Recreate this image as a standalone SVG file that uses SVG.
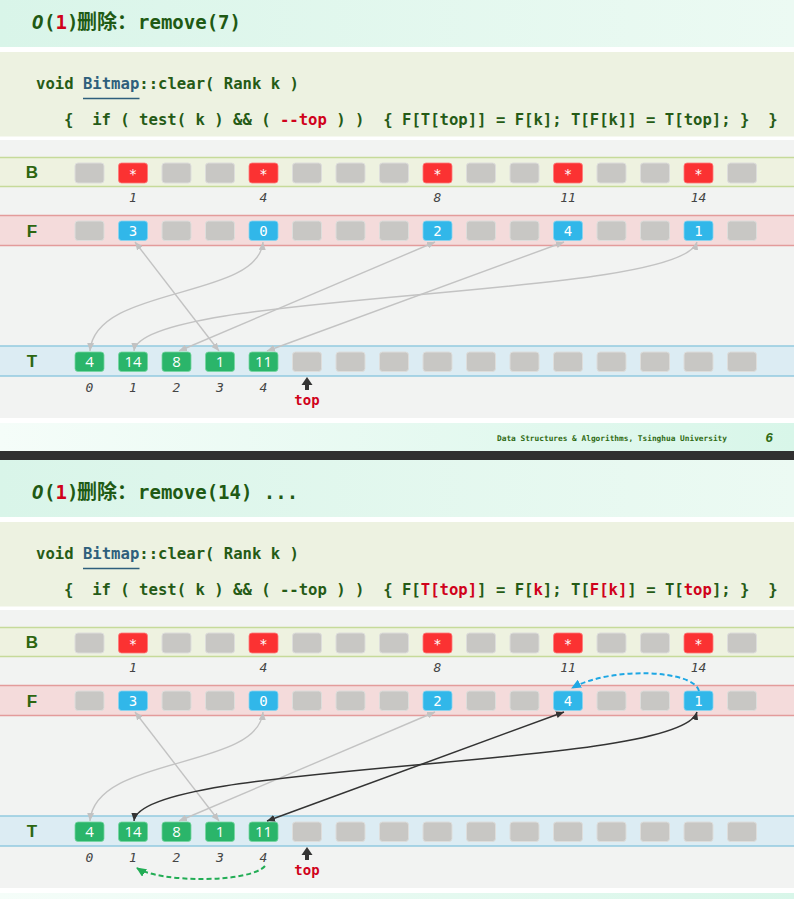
<svg xmlns="http://www.w3.org/2000/svg" width="794" height="899" viewBox="0 0 794 899">
<defs>
<linearGradient id="gTitle" x1="0" y1="0" x2="1" y2="0"><stop offset="0" stop-color="#d9f5e9"/><stop offset="1" stop-color="#ecfaf3"/></linearGradient>
<linearGradient id="gFoot" x1="0" y1="0" x2="1" y2="0"><stop offset="0" stop-color="#f5fdf9"/><stop offset="1" stop-color="#d8f6e9"/></linearGradient>
<marker id="mG" viewBox="0 0 8 7" refX="8" refY="3.5" markerWidth="8" markerHeight="7" markerUnits="userSpaceOnUse" orient="auto-start-reverse"><path d="M0,0 L8,3.5 L0,7 z" fill="#c2c2c2"/></marker>
<marker id="mD" viewBox="0 0 8 7" refX="8" refY="3.5" markerWidth="8" markerHeight="7" markerUnits="userSpaceOnUse" orient="auto-start-reverse"><path d="M0,0 L8,3.5 L0,7 z" fill="#333"/></marker>
<marker id="mB" viewBox="0 0 10 9" refX="9" refY="4.5" markerWidth="10" markerHeight="9" markerUnits="userSpaceOnUse" orient="auto"><path d="M0,0 L10,4.5 L0,9 z" fill="#1ea7e4"/></marker>
<marker id="mGr" viewBox="0 0 10 9" refX="9" refY="4.5" markerWidth="10" markerHeight="9" markerUnits="userSpaceOnUse" orient="auto"><path d="M0,0 L10,4.5 L0,9 z" fill="#22ad55"/></marker>
<style>
.cg{fill:#c8c7c4;stroke:#dddddb;stroke-width:1}
.cr{fill:#fb3232;stroke:#ff7a7a;stroke-width:.8}
.cb{fill:#31b7e9;stroke:#86d6f3;stroke-width:.8}
.ct{fill:#2bb56a;stroke:#75d6a0;stroke-width:.8}
.vs{font-family:"DejaVu Sans Mono","Liberation Mono",monospace;font-size:14px;fill:#fff;text-anchor:middle}
.vf{font-family:"DejaVu Sans Mono","Liberation Mono",monospace;font-size:14px;fill:#fff;text-anchor:middle}
.vt{font-family:"Open Sans","Liberation Sans",sans-serif;font-size:15px;fill:#fff;text-anchor:middle}
.idx{font-family:"DejaVu Sans Mono","Liberation Mono",monospace;font-style:italic;font-size:13px;fill:#444;text-anchor:middle}
.lbl{font-family:"Liberation Sans",Arial,sans-serif;font-weight:bold;font-size:17px;fill:#2d6610;text-anchor:middle}
.code{font-family:"DejaVu Sans Mono","Liberation Mono",monospace;font-weight:bold;font-size:15.6px;fill:#255b16}
.ttl{font-family:"DejaVu Sans Mono","Liberation Mono",monospace;font-weight:bold;font-size:19px;fill:#1f5a14}
.cjk{font-family:"Noto Sans CJK SC","Noto Sans",sans-serif;font-weight:bold;font-size:20px;fill:#1f5a14}
.red{fill:#d0021b}
.topl{font-family:"DejaVu Sans Mono","Liberation Mono",monospace;font-weight:bold;font-size:14px;fill:#d0021b;text-anchor:middle}
.foot{font-family:"DejaVu Sans Mono","Liberation Mono",monospace;font-weight:bold;font-size:7.8px;fill:#2f6a12}
.lg{fill:none;stroke:#c3c3c3;stroke-width:1.4;marker-start:url(#mG);marker-end:url(#mG)}
.ld{fill:none;stroke:#333;stroke-width:1.5;marker-start:url(#mD);marker-end:url(#mD)}
.bandB{fill:#eef2e0;stroke:#c6da9a;stroke-width:1.5}
.bandF{fill:#f4dbdb;stroke:#e39b9b;stroke-width:1.5}
.bandT{fill:#dcecf3;stroke:#92cae0;stroke-width:1.5}
</style>
</defs>
<rect x="0" y="0" width="794" height="899" fill="#ffffff"/>

<!-- ================= SLIDE 1 ================= -->
<g id="slide1">
<g id="s1-background">
<rect x="0" y="-10" width="794" height="57" fill="url(#gTitle)"/>
<rect x="0" y="52" width="794" height="84.5" fill="#edf2e1"/>
<rect x="0" y="140" width="794" height="278" fill="#f2f3f2"/>
<rect x="0" y="423" width="794" height="28" fill="url(#gFoot)"/>
<rect x="0" y="451" width="794" height="9" fill="#303030"/>
</g>
<g id="s1-title">
<text class="ttl" y="29"><tspan x="32" font-style="italic">O</tspan><tspan x="44">(</tspan><tspan class="red">1</tspan><tspan>)</tspan></text>
<text class="cjk" x="77" y="29">删除：</text>
<text class="ttl" x="138" y="29" font-size="18.5">remove(7)</text>
</g>
<g id="s1-code">
<text class="code" x="36" y="89" xml:space="preserve">void <tspan fill="#2e5f7c">Bitmap</tspan>::clear( Rank k )</text>
<line x1="83" y1="98.5" x2="139.5" y2="98.5" stroke="#2e5f7c" stroke-width="1.5"/>
<text class="code" x="64" y="124.5" xml:space="preserve">{  if ( test( k ) &amp;&amp; ( <tspan class="red">--top</tspan> ) )  { F[T[top]] = F[k]; T[F[k]] = T[top]; }  }</text>
</g>

<g id="s1-rowB">
<rect class="bandB" x="-2" y="157.5" width="798" height="29"/>
<text class="lbl" x="32" y="178">B</text>
<g id="s1-B0"><rect class="cg" x="75" y="163" width="29" height="20" rx="3"/></g>
<g id="s1-B1"><rect class="cr" x="118.5" y="163" width="29" height="20" rx="3"/><text class="vs" x="133" y="179">*</text></g>
<g id="s1-B2"><rect class="cg" x="162" y="163" width="29" height="20" rx="3"/></g>
<g id="s1-B3"><rect class="cg" x="205.5" y="163" width="29" height="20" rx="3"/></g>
<g id="s1-B4"><rect class="cr" x="249" y="163" width="29" height="20" rx="3"/><text class="vs" x="263.5" y="179">*</text></g>
<g id="s1-B5"><rect class="cg" x="292.5" y="163" width="29" height="20" rx="3"/></g>
<g id="s1-B6"><rect class="cg" x="336" y="163" width="29" height="20" rx="3"/></g>
<g id="s1-B7"><rect class="cg" x="379.5" y="163" width="29" height="20" rx="3"/></g>
<g id="s1-B8"><rect class="cr" x="423" y="163" width="29" height="20" rx="3"/><text class="vs" x="437.5" y="179">*</text></g>
<g id="s1-B9"><rect class="cg" x="466.5" y="163" width="29" height="20" rx="3"/></g>
<g id="s1-B10"><rect class="cg" x="510" y="163" width="29" height="20" rx="3"/></g>
<g id="s1-B11"><rect class="cr" x="553.5" y="163" width="29" height="20" rx="3"/><text class="vs" x="568" y="179">*</text></g>
<g id="s1-B12"><rect class="cg" x="597" y="163" width="29" height="20" rx="3"/></g>
<g id="s1-B13"><rect class="cg" x="640.5" y="163" width="29" height="20" rx="3"/></g>
<g id="s1-B14"><rect class="cr" x="684" y="163" width="29" height="20" rx="3"/><text class="vs" x="698.5" y="179">*</text></g>
<g id="s1-B15"><rect class="cg" x="727.5" y="163" width="29" height="20" rx="3"/></g>
<text class="idx" x="133" y="202">1</text>
<text class="idx" x="263.5" y="202">4</text>
<text class="idx" x="437.5" y="202">8</text>
<text class="idx" x="568" y="202">11</text>
<text class="idx" x="698.5" y="202">14</text>
</g>

<g id="s1-rowF">
<rect class="bandF" x="-2" y="215.5" width="798" height="30"/>
<text class="lbl" x="32" y="237">F</text>
<g id="s1-F0"><rect class="cg" x="75" y="221" width="29" height="19.5" rx="3"/></g>
<g id="s1-F1"><rect class="cb" x="118.5" y="221" width="29" height="19.5" rx="3"/><text class="vf" x="133" y="235.5">3</text></g>
<g id="s1-F2"><rect class="cg" x="162" y="221" width="29" height="19.5" rx="3"/></g>
<g id="s1-F3"><rect class="cg" x="205.5" y="221" width="29" height="19.5" rx="3"/></g>
<g id="s1-F4"><rect class="cb" x="249" y="221" width="29" height="19.5" rx="3"/><text class="vf" x="263.5" y="235.5">0</text></g>
<g id="s1-F5"><rect class="cg" x="292.5" y="221" width="29" height="19.5" rx="3"/></g>
<g id="s1-F6"><rect class="cg" x="336" y="221" width="29" height="19.5" rx="3"/></g>
<g id="s1-F7"><rect class="cg" x="379.5" y="221" width="29" height="19.5" rx="3"/></g>
<g id="s1-F8"><rect class="cb" x="423" y="221" width="29" height="19.5" rx="3"/><text class="vf" x="437.5" y="235.5">2</text></g>
<g id="s1-F9"><rect class="cg" x="466.5" y="221" width="29" height="19.5" rx="3"/></g>
<g id="s1-F10"><rect class="cg" x="510" y="221" width="29" height="19.5" rx="3"/></g>
<g id="s1-F11"><rect class="cb" x="553.5" y="221" width="29" height="19.5" rx="3"/><text class="vf" x="568" y="235.5">4</text></g>
<g id="s1-F12"><rect class="cg" x="597" y="221" width="29" height="19.5" rx="3"/></g>
<g id="s1-F13"><rect class="cg" x="640.5" y="221" width="29" height="19.5" rx="3"/></g>
<g id="s1-F14"><rect class="cb" x="684" y="221" width="29" height="19.5" rx="3"/><text class="vf" x="698.5" y="235.5">1</text></g>
<g id="s1-F15"><rect class="cg" x="727.5" y="221" width="29" height="19.5" rx="3"/></g>
</g>

<g id="s1-rowT">
<rect class="bandT" x="-2" y="346" width="798" height="30"/>
<text class="lbl" x="32" y="367">T</text>
<g id="s1-T0"><rect class="ct" x="75" y="352" width="29" height="19.5" rx="3"/><text class="vt" x="89.5" y="367">4</text></g>
<g id="s1-T1"><rect class="ct" x="118.5" y="352" width="29" height="19.5" rx="3"/><text class="vt" x="133" y="367">14</text></g>
<g id="s1-T2"><rect class="ct" x="162" y="352" width="29" height="19.5" rx="3"/><text class="vt" x="176.5" y="367">8</text></g>
<g id="s1-T3"><rect class="ct" x="205.5" y="352" width="29" height="19.5" rx="3"/><text class="vt" x="220" y="367">1</text></g>
<g id="s1-T4"><rect class="ct" x="249" y="352" width="29" height="19.5" rx="3"/><text class="vt" x="263.5" y="367">11</text></g>
<g id="s1-T5"><rect class="cg" x="292.5" y="352" width="29" height="19.5" rx="3"/></g>
<g id="s1-T6"><rect class="cg" x="336" y="352" width="29" height="19.5" rx="3"/></g>
<g id="s1-T7"><rect class="cg" x="379.5" y="352" width="29" height="19.5" rx="3"/></g>
<g id="s1-T8"><rect class="cg" x="423" y="352" width="29" height="19.5" rx="3"/></g>
<g id="s1-T9"><rect class="cg" x="466.5" y="352" width="29" height="19.5" rx="3"/></g>
<g id="s1-T10"><rect class="cg" x="510" y="352" width="29" height="19.5" rx="3"/></g>
<g id="s1-T11"><rect class="cg" x="553.5" y="352" width="29" height="19.5" rx="3"/></g>
<g id="s1-T12"><rect class="cg" x="597" y="352" width="29" height="19.5" rx="3"/></g>
<g id="s1-T13"><rect class="cg" x="640.5" y="352" width="29" height="19.5" rx="3"/></g>
<g id="s1-T14"><rect class="cg" x="684" y="352" width="29" height="19.5" rx="3"/></g>
<g id="s1-T15"><rect class="cg" x="727.5" y="352" width="29" height="19.5" rx="3"/></g>
<text class="idx" x="89.5" y="392">0</text>
<text class="idx" x="133" y="392">1</text>
<text class="idx" x="176.5" y="392">2</text>
<text class="idx" x="220" y="392">3</text>
<text class="idx" x="263.5" y="392">4</text>
</g>

<g id="s1-top">
<path d="M307,377 L312.5,385 L309,385 L309,390 L305,390 L305,385 L301.5,385 Z" fill="#333"/>
<text class="topl" x="307" y="405">top</text>
</g>

<g id="s1-connectors">
<path class="lg" d="M135,242 L219,351"/>
<path class="lg" d="M263,242 C258,300 95,285 90,351"/>
<path class="lg" d="M435,242 L179,351"/>
<path class="lg" d="M564,242 L267,351"/>
<path class="lg" d="M697,242 C680,300 140,290 134,351"/>
</g>

<g id="s1-footer">
<text class="foot" x="497" y="441">Data Structures &amp; Algorithms, Tsinghua University</text>
<text x="769" y="442" font-family="Liberation Sans,Arial,sans-serif" font-style="italic" font-weight="bold" font-size="13" fill="#2f6a12" text-anchor="middle">6</text>
</g>
</g>

<!-- ================= SLIDE 2 ================= -->
<g id="slide2" transform="translate(0,470)">
<g id="s2-background">
<rect x="0" y="-10" width="794" height="57" fill="url(#gTitle)"/>
<rect x="0" y="52" width="794" height="84.5" fill="#edf2e1"/>
<rect x="0" y="140" width="794" height="278" fill="#f2f3f2"/>
<rect x="0" y="423" width="794" height="28" fill="url(#gFoot)"/>
</g>
<g id="s2-title">
<text class="ttl" y="29"><tspan x="32" font-style="italic">O</tspan><tspan x="44">(</tspan><tspan class="red">1</tspan><tspan>)</tspan></text>
<text class="cjk" x="77" y="29">删除：</text>
<text class="ttl" x="138" y="29" font-size="18.5" xml:space="preserve">remove(14) ...</text>
</g>
<g id="s2-code">
<text class="code" x="36" y="89" xml:space="preserve">void <tspan fill="#2e5f7c">Bitmap</tspan>::clear( Rank k )</text>
<line x1="83" y1="98.5" x2="139.5" y2="98.5" stroke="#2e5f7c" stroke-width="1.5"/>
<text class="code" x="64" y="124.5" xml:space="preserve">{  if ( test( k ) &amp;&amp; ( --top ) )  { F[<tspan class="red">T[top]</tspan>] = F[<tspan class="red">k</tspan>]; T[<tspan class="red">F[k]</tspan>] = T[<tspan class="red">top</tspan>]; }  }</text>
</g>

<g id="s2-rowB">
<rect class="bandB" x="-2" y="157.5" width="798" height="29"/>
<text class="lbl" x="32" y="178">B</text>
<g id="s2-B0"><rect class="cg" x="75" y="163" width="29" height="20" rx="3"/></g>
<g id="s2-B1"><rect class="cr" x="118.5" y="163" width="29" height="20" rx="3"/><text class="vs" x="133" y="179">*</text></g>
<g id="s2-B2"><rect class="cg" x="162" y="163" width="29" height="20" rx="3"/></g>
<g id="s2-B3"><rect class="cg" x="205.5" y="163" width="29" height="20" rx="3"/></g>
<g id="s2-B4"><rect class="cr" x="249" y="163" width="29" height="20" rx="3"/><text class="vs" x="263.5" y="179">*</text></g>
<g id="s2-B5"><rect class="cg" x="292.5" y="163" width="29" height="20" rx="3"/></g>
<g id="s2-B6"><rect class="cg" x="336" y="163" width="29" height="20" rx="3"/></g>
<g id="s2-B7"><rect class="cg" x="379.5" y="163" width="29" height="20" rx="3"/></g>
<g id="s2-B8"><rect class="cr" x="423" y="163" width="29" height="20" rx="3"/><text class="vs" x="437.5" y="179">*</text></g>
<g id="s2-B9"><rect class="cg" x="466.5" y="163" width="29" height="20" rx="3"/></g>
<g id="s2-B10"><rect class="cg" x="510" y="163" width="29" height="20" rx="3"/></g>
<g id="s2-B11"><rect class="cr" x="553.5" y="163" width="29" height="20" rx="3"/><text class="vs" x="568" y="179">*</text></g>
<g id="s2-B12"><rect class="cg" x="597" y="163" width="29" height="20" rx="3"/></g>
<g id="s2-B13"><rect class="cg" x="640.5" y="163" width="29" height="20" rx="3"/></g>
<g id="s2-B14"><rect class="cr" x="684" y="163" width="29" height="20" rx="3"/><text class="vs" x="698.5" y="179">*</text></g>
<g id="s2-B15"><rect class="cg" x="727.5" y="163" width="29" height="20" rx="3"/></g>
<text class="idx" x="133" y="202">1</text>
<text class="idx" x="263.5" y="202">4</text>
<text class="idx" x="437.5" y="202">8</text>
<text class="idx" x="568" y="202">11</text>
<text class="idx" x="698.5" y="202">14</text>
</g>

<g id="s2-rowF">
<rect class="bandF" x="-2" y="215.5" width="798" height="30"/>
<text class="lbl" x="32" y="237">F</text>
<g id="s2-F0"><rect class="cg" x="75" y="221" width="29" height="19.5" rx="3"/></g>
<g id="s2-F1"><rect class="cb" x="118.5" y="221" width="29" height="19.5" rx="3"/><text class="vf" x="133" y="235.5">3</text></g>
<g id="s2-F2"><rect class="cg" x="162" y="221" width="29" height="19.5" rx="3"/></g>
<g id="s2-F3"><rect class="cg" x="205.5" y="221" width="29" height="19.5" rx="3"/></g>
<g id="s2-F4"><rect class="cb" x="249" y="221" width="29" height="19.5" rx="3"/><text class="vf" x="263.5" y="235.5">0</text></g>
<g id="s2-F5"><rect class="cg" x="292.5" y="221" width="29" height="19.5" rx="3"/></g>
<g id="s2-F6"><rect class="cg" x="336" y="221" width="29" height="19.5" rx="3"/></g>
<g id="s2-F7"><rect class="cg" x="379.5" y="221" width="29" height="19.5" rx="3"/></g>
<g id="s2-F8"><rect class="cb" x="423" y="221" width="29" height="19.5" rx="3"/><text class="vf" x="437.5" y="235.5">2</text></g>
<g id="s2-F9"><rect class="cg" x="466.5" y="221" width="29" height="19.5" rx="3"/></g>
<g id="s2-F10"><rect class="cg" x="510" y="221" width="29" height="19.5" rx="3"/></g>
<g id="s2-F11"><rect class="cb" x="553.5" y="221" width="29" height="19.5" rx="3"/><text class="vf" x="568" y="235.5">4</text></g>
<g id="s2-F12"><rect class="cg" x="597" y="221" width="29" height="19.5" rx="3"/></g>
<g id="s2-F13"><rect class="cg" x="640.5" y="221" width="29" height="19.5" rx="3"/></g>
<g id="s2-F14"><rect class="cb" x="684" y="221" width="29" height="19.5" rx="3"/><text class="vf" x="698.5" y="235.5">1</text></g>
<g id="s2-F15"><rect class="cg" x="727.5" y="221" width="29" height="19.5" rx="3"/></g>
</g>

<g id="s2-rowT">
<rect class="bandT" x="-2" y="346" width="798" height="30"/>
<text class="lbl" x="32" y="367">T</text>
<g id="s2-T0"><rect class="ct" x="75" y="352" width="29" height="19.5" rx="3"/><text class="vt" x="89.5" y="367">4</text></g>
<g id="s2-T1"><rect class="ct" x="118.5" y="352" width="29" height="19.5" rx="3"/><text class="vt" x="133" y="367">14</text></g>
<g id="s2-T2"><rect class="ct" x="162" y="352" width="29" height="19.5" rx="3"/><text class="vt" x="176.5" y="367">8</text></g>
<g id="s2-T3"><rect class="ct" x="205.5" y="352" width="29" height="19.5" rx="3"/><text class="vt" x="220" y="367">1</text></g>
<g id="s2-T4"><rect class="ct" x="249" y="352" width="29" height="19.5" rx="3"/><text class="vt" x="263.5" y="367">11</text></g>
<g id="s2-T5"><rect class="cg" x="292.5" y="352" width="29" height="19.5" rx="3"/></g>
<g id="s2-T6"><rect class="cg" x="336" y="352" width="29" height="19.5" rx="3"/></g>
<g id="s2-T7"><rect class="cg" x="379.5" y="352" width="29" height="19.5" rx="3"/></g>
<g id="s2-T8"><rect class="cg" x="423" y="352" width="29" height="19.5" rx="3"/></g>
<g id="s2-T9"><rect class="cg" x="466.5" y="352" width="29" height="19.5" rx="3"/></g>
<g id="s2-T10"><rect class="cg" x="510" y="352" width="29" height="19.5" rx="3"/></g>
<g id="s2-T11"><rect class="cg" x="553.5" y="352" width="29" height="19.5" rx="3"/></g>
<g id="s2-T12"><rect class="cg" x="597" y="352" width="29" height="19.5" rx="3"/></g>
<g id="s2-T13"><rect class="cg" x="640.5" y="352" width="29" height="19.5" rx="3"/></g>
<g id="s2-T14"><rect class="cg" x="684" y="352" width="29" height="19.5" rx="3"/></g>
<g id="s2-T15"><rect class="cg" x="727.5" y="352" width="29" height="19.5" rx="3"/></g>
<text class="idx" x="89.5" y="392">0</text>
<text class="idx" x="133" y="392">1</text>
<text class="idx" x="176.5" y="392">2</text>
<text class="idx" x="220" y="392">3</text>
<text class="idx" x="263.5" y="392">4</text>
</g>

<g id="s2-top">
<path d="M307,377 L312.5,385 L309,385 L309,390 L305,390 L305,385 L301.5,385 Z" fill="#333"/>
<text class="topl" x="307" y="405">top</text>
</g>

<g id="s2-connectors">
<path class="lg" d="M135,242 L219,351"/>
<path class="lg" d="M263,242 C258,300 95,285 90,351"/>
<path class="lg" d="M435,242 L179,351"/>
<path class="ld" d="M564,242 L267,351"/>
<path class="ld" d="M697,242 C680,300 140,290 134,351"/>
<path d="M699,221 C694,200 612,196 572,218" fill="none" stroke="#1ea7e4" stroke-width="2" stroke-dasharray="5,3" marker-end="url(#mB)"/>
<path d="M265,396 C250,413 160,413 137,398" fill="none" stroke="#22ad55" stroke-width="2" stroke-dasharray="5,3" marker-end="url(#mGr)"/>
</g>
</g>
</svg>
